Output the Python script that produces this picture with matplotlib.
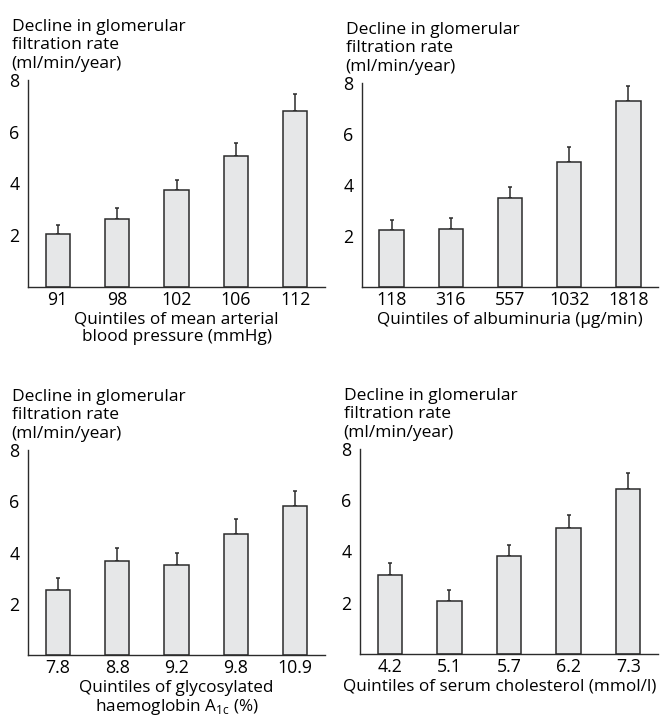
import numpy as np
import matplotlib
matplotlib.use("Agg")
import matplotlib.pyplot as plt

plt.rcParams['font.family'] = ['Open Sans', 'DejaVu Sans']
plt.rcParams['font.size'] = 12.5

# data: bar height and top of error bar
bp_labels = ["91", "98", "102", "106", "112"]
bp_mean = [2.04, 2.64, 3.73, 5.05, 6.82]
bp_top = [2.39, 3.07, 4.15, 5.57, 7.47]

alb_labels = ["118", "316", "557", "1032", "1818"]
alb_mean = [2.22, 2.27, 3.50, 4.92, 7.29]
alb_top = [2.64, 2.69, 3.91, 5.48, 7.90]

hba_labels = ["7.8", "8.8", "9.2", "9.8", "10.9"]
hba_mean = [2.54, 3.67, 3.51, 4.73, 5.80]
hba_top = [3.02, 4.16, 3.97, 5.31, 6.41]

chol_labels = ["4.2", "5.1", "5.7", "6.2", "7.3"]
chol_mean = [3.09, 2.07, 3.81, 4.90, 6.42]
chol_top = [3.57, 2.51, 4.24, 5.41, 7.05]

ylabel = "Decline in glomerular\nfiltration rate\n(ml/min/year)"

W, H = 660, 716
fig = plt.figure(figsize=(W / 100, H / 100), dpi=100)


def px_axes(left, right, bottom, top):
    return fig.add_axes([left / W, 1 - bottom / H, (right - left) / W, (bottom - top) / H])


def draw_panel(ax, labels, mean, top, xlabel, xlab_pos=0.5):
    x = np.arange(len(labels))
    err = np.array(top) - np.array(mean)
    ax.bar(x, mean, width=0.41, color="#e6e7e8", edgecolor="#2b2b2b", linewidth=1.1, zorder=2)
    ax.errorbar(x, mean, yerr=[np.zeros_like(err), err], fmt="none",
                ecolor="#2b2b2b", elinewidth=1.1, capsize=1.2, capthick=1.1, zorder=1)
    ax.set_xlim(-0.5, len(labels) - 0.5)
    ax.set_ylim(0, 8)
    ax.set_yticks([2, 4, 6, 8])
    ax.set_xticks(x)
    ax.set_xticklabels(labels, fontsize=12.8)
    ax.tick_params(axis='y', length=0, pad=6, labelsize=12.8)
    ax.tick_params(axis='x', length=0, pad=3)
    for s in ["top", "right"]:
        ax.spines[s].set_visible(False)
    for s in ["left", "bottom"]:
        ax.spines[s].set_linewidth(1.0)
        ax.spines[s].set_color("#2b2b2b")
    ax.set_xlabel(xlabel, fontsize=12.3, labelpad=2, linespacing=1.05)
    ax.xaxis.label.set_x(xlab_pos)
    ax.text(-0.055, 1.04, ylabel, transform=ax.transAxes, ha="left", va="bottom",
            fontsize=12.5, linespacing=1.2)


ax1 = px_axes(28, 325, 287, 80)
draw_panel(ax1, bp_labels, bp_mean, bp_top,
           "Quintiles of mean arterial\nblood pressure (mmHg)")

ax2 = px_axes(362, 658, 287, 83)
draw_panel(ax2, alb_labels, alb_mean, alb_top,
           "Quintiles of albuminuria (\u03bcg/min)")

ax3 = px_axes(28, 325, 655, 450)
draw_panel(ax3, hba_labels, hba_mean, hba_top,
           "Quintiles of glycosylated\nhaemoglobin A$_{\\mathregular{1c}}$ (%)")

ax4 = px_axes(360, 658, 654, 449)
draw_panel(ax4, chol_labels, chol_mean, chol_top,
           "Quintiles of serum cholesterol (mmol/l)", xlab_pos=0.47)

fig.savefig("out.png", dpi=100)
